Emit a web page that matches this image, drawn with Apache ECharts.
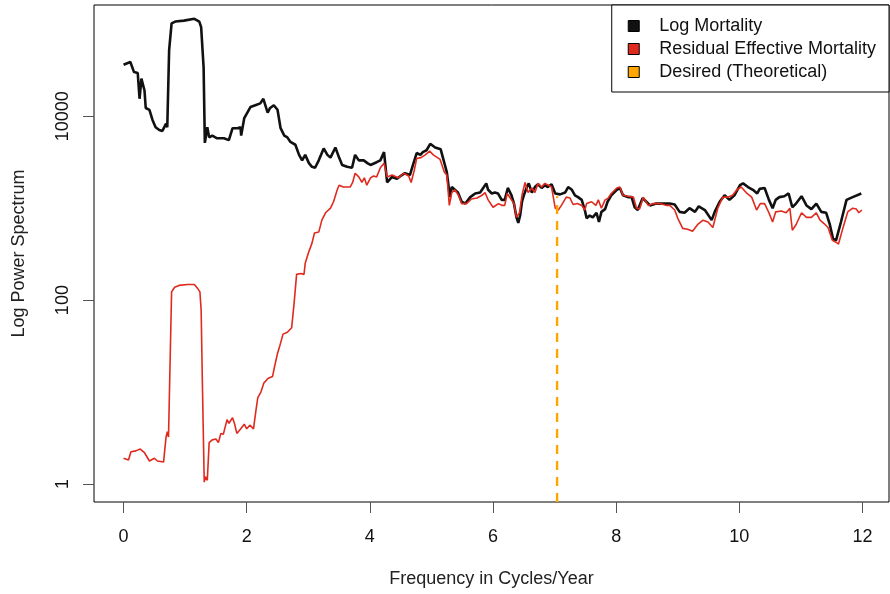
<!DOCTYPE html>
<html><head><meta charset="utf-8">
<script src="https://cdn.jsdelivr.net/npm/echarts@6/dist/echarts.min.js"></script>
<style>html,body{margin:0;padding:0;background:#fff}#c{width:890px;height:594px}</style>
</head><body><div id="c"></div>
<script>
// Frequency (cycles/year) and log10 power for "Log Mortality"
const freqMortality = [
0.00,0.11,0.17,0.23,0.26,0.29,0.34,0.36,0.42,0.47,
0.52,0.58,0.63,0.69,0.71,0.74,0.78,0.84,0.98,1.15,
1.23,1.26,1.30,1.32,1.36,1.39,1.44,1.52,1.63,1.71,
1.77,1.80,1.85,1.90,1.91,1.96,2.01,2.06,2.14,2.22,
2.27,2.34,2.38,2.44,2.50,2.55,2.61,2.66,2.71,2.79,
2.85,2.90,2.95,3.01,3.06,3.11,3.17,3.25,3.31,3.36,
3.44,3.50,3.55,3.63,3.71,3.76,3.82,3.90,3.96,4.01,
4.11,4.17,4.23,4.28,4.36,4.44,4.52,4.57,4.65,4.70,
4.76,4.82,4.86,4.92,4.98,5.06,5.15,5.21,5.25,5.30,
5.33,5.38,5.43,5.49,5.55,5.63,5.71,5.79,5.84,5.89,
5.92,5.98,6.03,6.08,6.14,6.19,6.24,6.30,6.34,6.38,
6.41,6.44,6.47,6.50,6.55,6.58,6.63,6.68,6.73,6.79,
6.84,6.89,6.95,7.01,7.09,7.17,7.22,7.28,7.33,7.38,
7.44,7.49,7.52,7.57,7.62,7.68,7.72,7.76,7.82,7.86,
7.92,8.01,8.06,8.11,8.19,8.25,8.30,8.35,8.43,8.49,
8.55,8.65,8.79,8.87,8.95,9.03,9.11,9.19,9.28,9.34,
9.44,9.55,9.60,9.68,9.76,9.84,9.92,10.01,10.06,10.14,
10.22,10.29,10.33,10.41,10.48,10.54,10.59,10.65,10.73,10.80,
10.86,10.92,11.01,11.09,11.17,11.25,11.33,11.41,11.47,11.52,
11.57,11.65,11.74,11.84,11.98];
const logMortality = [
4.56,4.59,4.48,4.47,4.19,4.41,4.28,4.09,4.07,3.96,
3.88,3.85,3.84,3.92,3.88,4.72,5.01,5.03,5.04,5.06,
5.03,4.97,4.53,3.71,3.88,3.77,3.79,3.76,3.76,3.74,
3.87,3.89,3.87,3.88,3.79,3.98,4.04,4.10,4.12,4.14,
4.19,4.04,4.09,4.12,4.07,3.87,3.79,3.77,3.72,3.69,
3.58,3.52,3.58,3.49,3.45,3.44,3.52,3.65,3.58,3.55,
3.66,3.55,3.47,3.45,3.44,3.58,3.52,3.52,3.49,3.47,
3.50,3.52,3.61,3.28,3.34,3.32,3.36,3.38,3.36,3.47,
3.60,3.58,3.61,3.63,3.70,3.66,3.64,3.49,3.39,3.12,
3.23,3.20,3.17,3.07,3.05,3.12,3.16,3.17,3.22,3.27,
3.20,3.16,3.17,3.16,3.09,3.09,3.22,3.14,3.05,2.90,
2.84,2.92,3.07,3.14,3.23,3.27,3.17,3.23,3.26,3.22,
3.25,3.23,3.26,3.16,3.15,3.17,3.23,3.20,3.14,3.12,
3.09,2.98,2.89,2.92,2.90,2.95,2.85,2.96,2.99,3.07,
3.14,3.20,3.22,3.14,3.12,3.12,3.01,2.98,3.11,3.07,
3.03,3.05,3.05,3.05,3.04,2.96,2.95,3.00,2.96,3.02,
2.98,2.87,2.96,3.07,3.14,3.09,3.14,3.25,3.27,3.23,
3.20,3.16,3.21,3.22,3.09,3.00,3.09,3.12,3.13,3.16,
3.01,3.05,3.13,3.03,2.99,3.05,2.96,2.95,2.82,2.67,
2.65,2.85,3.09,3.12,3.16];

// Frequency and log10 power for "Residual Effective Mortality"
const freqResidual = [
0.00,0.08,0.12,0.20,0.27,0.34,0.42,0.50,0.55,0.65,
0.69,0.71,0.73,0.76,0.78,0.83,0.90,1.04,1.15,1.20,
1.24,1.26,1.28,1.31,1.33,1.36,1.39,1.44,1.50,1.54,
1.58,1.62,1.68,1.71,1.77,1.80,1.84,1.89,1.96,2.00,
2.05,2.11,2.15,2.18,2.23,2.28,2.35,2.42,2.45,2.50,
2.54,2.59,2.66,2.73,2.77,2.81,2.88,2.93,2.95,3.00,
3.06,3.10,3.17,3.22,3.28,3.36,3.41,3.47,3.50,3.57,
3.68,3.72,3.76,3.82,3.87,3.91,3.95,4.01,4.06,4.11,
4.17,4.23,4.28,4.36,4.46,4.55,4.63,4.67,4.72,4.76,
4.83,4.90,4.97,5.03,5.14,5.21,5.25,5.29,5.33,5.38,
5.44,5.49,5.57,5.65,5.74,5.82,5.87,5.92,6.00,6.09,
6.14,6.19,6.23,6.28,6.34,6.38,6.43,6.47,6.52,6.57,
6.63,6.68,6.73,6.79,6.84,6.90,6.95,7.01,7.06,7.11,
7.19,7.25,7.30,7.37,7.44,7.49,7.52,7.60,7.67,7.71,
7.76,7.82,7.87,7.92,8.01,8.06,8.11,8.19,8.28,8.33,
8.38,8.44,8.52,8.60,8.71,8.82,8.87,8.95,9.00,9.08,
9.16,9.24,9.32,9.41,9.49,9.57,9.65,9.73,9.81,9.89,
9.96,10.03,10.11,10.20,10.28,10.34,10.41,10.48,10.54,10.59,
10.68,10.76,10.82,10.86,10.92,11.01,11.09,11.17,11.25,11.31,
11.38,11.44,11.51,11.57,11.61,11.68,11.76,11.84,11.90,11.94,
11.99];
const logResidual = [
0.28,0.26,0.35,0.36,0.38,0.34,0.25,0.28,0.25,0.24,
0.51,0.57,0.51,1.46,2.09,2.14,2.16,2.17,2.17,2.13,
2.09,1.89,1.10,0.02,0.08,0.04,0.45,0.48,0.49,0.45,
0.55,0.54,0.70,0.66,0.72,0.66,0.55,0.59,0.65,0.60,
0.64,0.60,0.80,0.94,1.00,1.10,1.15,1.17,1.27,1.42,
1.51,1.63,1.65,1.70,1.97,2.28,2.29,2.28,2.40,2.51,
2.62,2.73,2.74,2.87,2.95,3.00,3.07,3.20,3.25,3.23,
3.23,3.28,3.38,3.34,3.28,3.33,3.25,3.33,3.35,3.34,
3.44,3.49,3.34,3.36,3.33,3.38,3.35,3.28,3.41,3.54,
3.55,3.58,3.62,3.58,3.53,3.39,3.36,3.03,3.17,3.20,
3.14,3.05,3.05,3.10,3.11,3.14,3.17,3.09,3.01,3.05,
3.03,3.03,3.16,3.11,3.05,2.90,2.95,3.14,3.28,3.17,
3.22,3.17,3.27,3.23,3.27,3.25,3.23,3.00,2.98,3.03,
3.12,3.11,3.04,3.05,3.03,2.98,3.05,3.07,3.03,3.09,
3.00,3.09,3.11,3.16,3.22,3.23,3.14,3.13,3.12,3.00,
2.99,3.12,3.03,3.05,3.05,3.03,3.03,2.98,2.89,2.78,
2.77,2.75,2.82,2.87,2.85,2.79,3.00,3.12,3.12,3.14,
3.20,3.23,3.17,3.12,2.98,3.05,3.05,2.95,2.85,2.96,
2.97,2.95,3.00,2.76,2.82,2.95,2.90,2.90,2.95,2.87,
2.83,2.79,2.65,2.63,2.61,2.78,2.96,3.00,2.99,2.95,
2.98];

// Desired (theoretical) marker: frequency and log10 level of its top
const desiredFreq = 7.04;
const desiredLog = 3.13;

const xTicks = [0, 2, 4, 6, 8, 10, 12];
const yTicks = [0, 2, 4];   // log10 of 1, 100, 10000

const seriesNames = ['Log Mortality', 'Residual Effective Mortality', 'Desired (Theoretical)'];
const colors = ['#111111', '#e02a1e', '#ffa500'];

const yMin = -0.196, yMax = 5.21;
const xMin = -0.48, xMax = 12.43;

const chart = echarts.init(document.getElementById('c'), null, {renderer: 'canvas'});
const font = '"Liberation Sans", Arial, Helvetica, sans-serif';
const fs = 18;
chart.setOption({
  animation: false,
  backgroundColor: '#fff',
  textStyle: {fontFamily: font},
  grid: {left: 94, right: 1, top: 5, bottom: 92, show: true, borderColor: '#000', borderWidth: 1, containLabel: false},
  legend: {
    orient: 'vertical', right: 1, top: 5,
    backgroundColor: '#fff', borderColor: '#000', borderWidth: 1,
    padding: [12, 13, 11, 16], itemGap: 5, itemWidth: 11, itemHeight: 11,
    icon: 'rect',
    textStyle: {fontSize: fs, color: '#111', fontFamily: font, padding: [0, 0, 0, 15]},
    data: seriesNames.map((n, i) => ({name: n, icon: 'rect', itemStyle: {color: colors[i], borderColor: '#000', borderWidth: 1}}))
  },
  xAxis: {
    type: 'value', min: xMin, max: xMax,
    name: 'Frequency in Cycles/Year', nameLocation: 'middle', nameGap: 68,
    nameTextStyle: {fontSize: fs, color: '#222', fontFamily: font},
    axisLine: {show: false, onZero: false},
    axisTick: {show: true, length: 11, inside: false, customValues: xTicks, lineStyle: {color: '#555'}},
    axisLabel: {customValues: xTicks, fontSize: fs, color: '#111', margin: 26, fontFamily: font},
    splitLine: {show: false}
  },
  yAxis: {
    type: 'value', min: yMin, max: yMax,
    name: 'Log Power Spectrum', nameLocation: 'middle', nameGap: 66,
    nameTextStyle: {fontSize: fs, color: '#222', fontFamily: font},
    axisLine: {show: false, onZero: false},
    axisTick: {show: true, length: 11, customValues: yTicks, lineStyle: {color: '#555'}},
    axisLabel: {customValues: yTicks, rotate: 90, fontSize: fs, color: '#111', margin: 22, fontFamily: font,
      formatter: v => String(Math.round(Math.pow(10, v)))},
    splitLine: {show: false}
  },
  series: [
    {name: seriesNames[0], type: 'line', showSymbol: false, symbol: 'none',
     data: freqMortality.map((f, i) => [f, logMortality[i]]),
     lineStyle: {color: colors[0], width: 2.6}, itemStyle: {color: colors[0]}, z: 2},
    {name: seriesNames[1], type: 'line', showSymbol: false, symbol: 'none',
     data: freqResidual.map((f, i) => [f, logResidual[i]]),
     lineStyle: {color: colors[1], width: 1.6}, itemStyle: {color: colors[1]}, z: 3},
    {name: seriesNames[2], type: 'line', showSymbol: false, symbol: 'none',
     data: [[desiredFreq, yMin], [desiredFreq, desiredLog]],
     lineStyle: {color: colors[2], width: 2.4, type: [9, 7]}, itemStyle: {color: colors[2]}, z: 4}
  ]
});
</script>
</body></html>
